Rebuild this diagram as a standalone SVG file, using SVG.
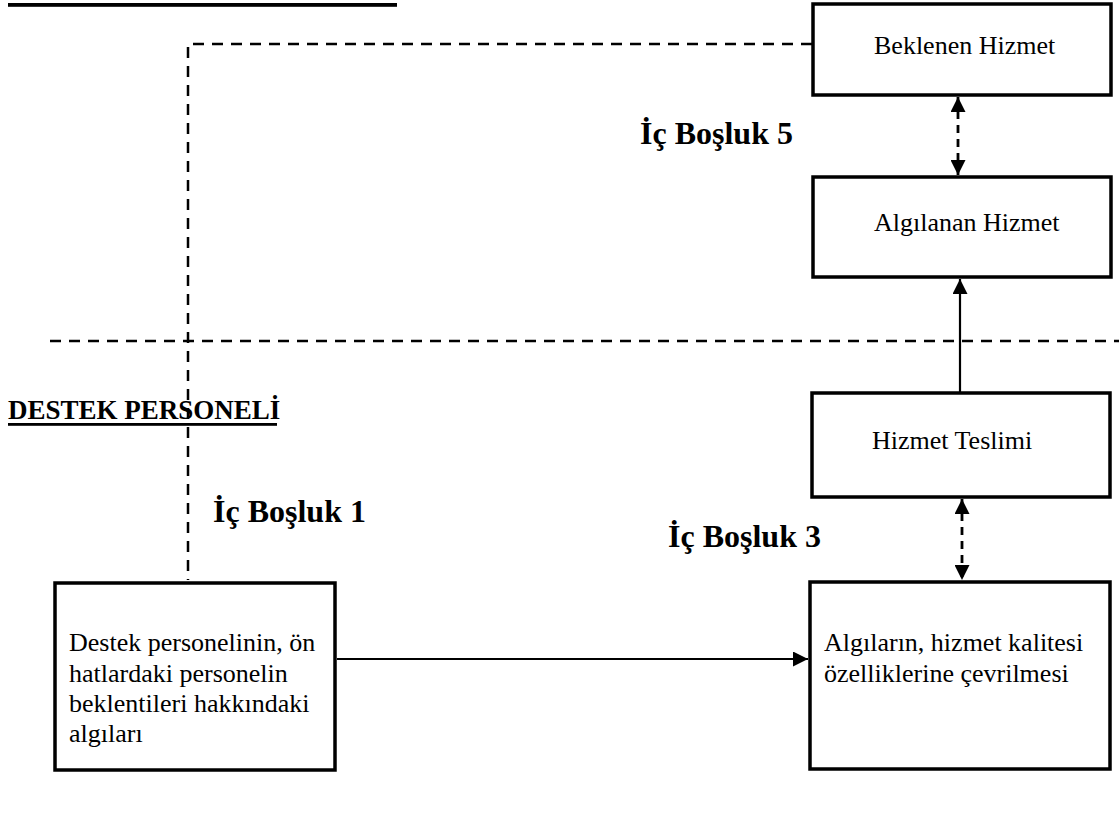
<svg xmlns="http://www.w3.org/2000/svg" width="1119" height="829" viewBox="0 0 1119 829">
<defs>
<style>
.box{fill:#fff;stroke:#000;stroke-width:3.5}
.t{font-family:"Liberation Serif","Times New Roman",serif;font-size:26px;fill:#000}
.lbl{font-family:"Liberation Serif","Times New Roman",serif;font-size:32px;font-weight:bold;fill:#000}
.hd{font-family:"Liberation Serif","Times New Roman",serif;font-size:27px;font-weight:bold;fill:#000}
.dash{fill:none;stroke:#000;stroke-width:2.5;stroke-dasharray:11 8}
.adash{fill:none;stroke:#000;stroke-width:2.8;stroke-dasharray:8 6}
.solid{fill:none;stroke:#000;stroke-width:2.2}
</style>
<marker id="ah" viewBox="0 0 10 10" refX="10" refY="5" markerWidth="15" markerHeight="15" markerUnits="userSpaceOnUse" orient="auto-start-reverse">
<path d="M0,0 L10,5 L0,10 Z" fill="#000"/>
</marker>
</defs>
<rect width="1119" height="829" fill="#fff"/>

<rect x="8" y="3" width="389" height="3.8" fill="#000"/>

<g id="connectors">
<path class="dash" d="M812,44 H188 V580"/>
<path class="dash" d="M50,341 H1119"/>
<path class="adash" d="M958,97 V175" marker-start="url(#ah)" marker-end="url(#ah)"/>
<path class="solid" d="M960,393 V279" marker-end="url(#ah)"/>
<path class="adash" d="M962,499 V580" marker-start="url(#ah)" marker-end="url(#ah)"/>
<path class="solid" d="M337,659 H808" marker-end="url(#ah)"/>
</g>

<g id="beklenen">
<rect class="box" x="813" y="4" width="298" height="91"/>
<text class="t" x="874" y="54">Beklenen Hizmet</text>
</g>
<g id="algilanan">
<rect class="box" x="813" y="177" width="298" height="100"/>
<text class="t" x="874" y="231">Algılanan Hizmet</text>
</g>
<g id="teslim">
<rect class="box" x="812" y="393" width="298" height="104"/>
<text class="t" x="872" y="449">Hizmet Teslimi</text>
</g>
<g id="algilarin">
<rect class="box" x="810" y="582" width="300" height="187"/>
<text class="t" x="824" y="651">Algıların, hizmet kalitesi</text>
<text class="t" x="824" y="682">özelliklerine çevrilmesi</text>
</g>
<g id="destek">
<rect class="box" x="55" y="583" width="280" height="187"/>
<text class="t" x="69" y="651">Destek personelinin, ön</text>
<text class="t" x="69" y="682">hatlardaki personelin</text>
<text class="t" x="69" y="712">beklentileri hakkındaki</text>
<text class="t" x="69" y="742">algıları</text>
</g>

<g id="labels">
<text class="lbl" x="640" y="144">İç Boşluk 5</text>
<text class="lbl" x="213" y="522">İç Boşluk 1</text>
<text class="lbl" x="668" y="547">İç Boşluk 3</text>
<text class="hd" x="8" y="419">DESTEK PERSONELİ</text>
<rect x="8" y="423" width="269" height="2.8" fill="#000"/>
</g>
</svg>
